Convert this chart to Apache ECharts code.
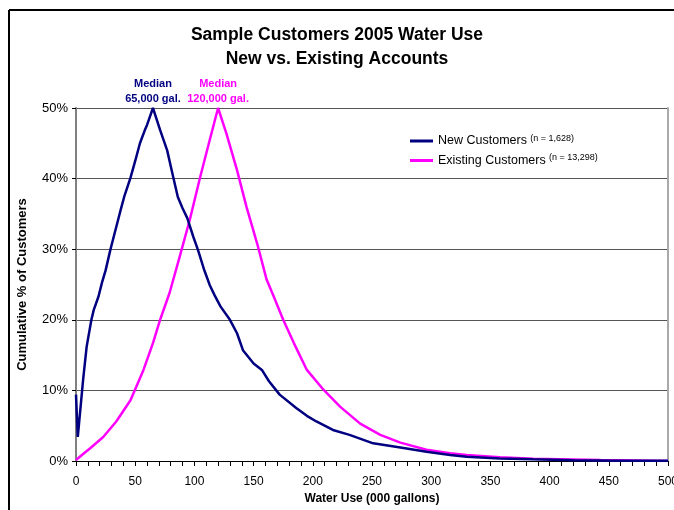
<!DOCTYPE html>
<html>
<head>
<meta charset="utf-8">
<script src="https://cdn.jsdelivr.net/npm/echarts@6/dist/echarts.min.js"></script>
<style>
  html, body { margin: 0; padding: 0; background: #fff; }
  #chart { width: 674px; height: 510px; }
</style>
</head>
<body>
<div id="chart"></div>
<script>
// New customers (water use in 000 gal, cumulative %)
var newX = [0, 1.5, 6, 9, 13, 15, 19, 22, 25, 29, 33, 37, 41, 46, 50, 54, 58, 60, 65,
  71, 77, 82, 86, 90, 94, 99, 103, 108, 113, 117, 122, 130, 136, 141, 150, 157, 163,
  172, 186, 195, 203, 217, 231, 251, 274, 296, 316, 330, 358, 386, 420, 460, 500];
var newPct = [9.4, 3.4, 11.5, 16.2, 20, 21.4, 23.3, 25.3, 27, 29.9, 32.5, 35.1, 37.6, 40.1, 42.5, 45, 46.8, 47.6, 50,
  46.9, 44, 40.3, 37.4, 35.8, 34.4, 31.8, 29.9, 27.2, 24.9, 23.5, 21.9, 20, 18.1, 15.7, 13.8, 12.9, 11.3,
  9.4, 7.5, 6.4, 5.6, 4.4, 3.7, 2.5, 1.9, 1.3, 0.85, 0.6, 0.35, 0.24, 0.12, 0.05, 0.02];

// Existing customers
var oldX = [0, 6, 12, 23, 34, 46, 57, 65, 71, 79, 88, 96, 105, 113, 120,
  127, 136, 144, 153, 161, 167, 175, 184, 195, 209, 223, 240, 257, 274, 296, 316, 330, 358, 386, 443, 500];
var oldPct = [0.15, 1.0, 1.8, 3.4, 5.6, 8.6, 12.9, 16.7, 20, 23.8, 29.2, 34.1, 40.3, 45.5, 50,
  46.4, 41.2, 36, 30.8, 25.7, 23.3, 20, 16.7, 12.9, 10.1, 7.7, 5.3, 3.7, 2.6, 1.6, 1.1, 0.85, 0.52, 0.33, 0.14, 0];

var seriesNames = ['New Customers', 'Existing Customers'];
var seriesCounts = ['(n = 1,628)', '(n = 13,298)'];
var medians = [[65, 50, '65,000 gal.'], [120, 50, '120,000 gal.']];

function pairs(xs, ys) {
  var out = [];
  for (var i = 0; i < xs.length; i++) {
    out.push([xs[i], ys[i]]);
  }
  return out;
}

var font = '"Liberation Sans", Arial, sans-serif';
var navy = '#000080';
var pink = '#ff00ff';

function medianPoint(m, color) {
  return {
    symbol: 'circle',
    symbolSize: 1,
    itemStyle: { color: 'rgba(0,0,0,0)' },
    data: [{ coord: [m[0], m[1]] }],
    label: {
      show: true,
      position: 'top',
      distance: 1,
      formatter: 'Median\n' + m[2],
      color: color,
      fontFamily: font,
      fontWeight: 'bold',
      fontSize: 11,
      lineHeight: 15
    }
  };
}

var chart = echarts.init(document.getElementById('chart'));
var option = {
  animation: false,
  backgroundColor: '#fff',
  title: {
    text: 'Sample Customers 2005 Water Use\nNew vs. Existing Accounts',
    left: 'center',
    top: 18,
    textStyle: {
      fontFamily: font,
      fontWeight: 'bold',
      fontSize: 17.5,
      lineHeight: 24,
      color: '#000'
    }
  },
  graphic: [
    { type: 'line', shape: { x1: 9, y1: 10, x2: 9, y2: 510 }, style: { stroke: '#000', lineWidth: 2 } },
    { type: 'line', shape: { x1: 9, y1: 10, x2: 674, y2: 10 }, style: { stroke: '#000', lineWidth: 2 } }
  ],
  legend: {
    left: 405,
    top: 129,
    orient: 'vertical',
    itemGap: 6,
    itemWidth: 23,
    itemHeight: 3,
    icon: 'rect',
    data: seriesNames,
    formatter: function (name) {
      var i = seriesNames.indexOf(name);
      return '{a|' + name + '} {b|' + seriesCounts[i] + '}';
    },
    textStyle: {
      fontFamily: font,
      color: '#000',
      rich: {
        a: { fontFamily: font, fontSize: 12.5, color: '#000' },
        b: { fontFamily: font, fontSize: 9, color: '#000', verticalAlign: 'top', padding: [0, 0, 5, 0] }
      }
    }
  },
  grid: { left: 76, right: 6, top: 108, bottom: 49, outerBoundsMode: 'none', containLabel: false },
  xAxis: {
    type: 'value',
    min: 0,
    max: 500,
    interval: 10,
    name: 'Water Use (000 gallons)',
    nameLocation: 'middle',
    nameGap: 30,
    nameTextStyle: { fontFamily: font, fontWeight: 'bold', fontSize: 12, color: '#000' },
    axisLine: { show: true, onZero: false, lineStyle: { color: '#000', width: 1 } },
    axisTick: { show: true, length: 5, lineStyle: { color: '#000' } },
    axisLabel: {
      margin: 15,
      fontFamily: font,
      fontSize: 12,
      color: '#000',
      hideOverlap: false,
      formatter: function (v) { return v % 50 === 0 ? v : ''; }
    },
    splitLine: { show: false }
  },
  yAxis: [{
    type: 'value',
    min: 0,
    max: 50,
    interval: 10,
    name: 'Cumulative % of Customers',
    nameLocation: 'middle',
    nameGap: 47,
    nameTextStyle: { fontFamily: font, fontWeight: 'bold', fontSize: 13, color: '#000' },
    axisLine: { show: true, lineStyle: { color: '#808080', width: 2 } },
    axisTick: { show: true, length: 4, lineStyle: { color: '#000' } },
    axisLabel: { margin: 8, fontFamily: font, fontSize: 13, color: '#000', formatter: '{value}%' },
    splitLine: { show: true, lineStyle: { color: '#555', width: 1 } }
  }, {
    type: 'value',
    min: 0,
    max: 50,
    interval: 10,
    position: 'right',
    axisLine: { show: true, lineStyle: { color: '#aaa', width: 2 } },
    axisTick: { show: false },
    axisLabel: { show: false },
    splitLine: { show: false }
  }],
  series: [{
    name: seriesNames[0],
    type: 'line',
    data: pairs(newX, newPct),
    showSymbol: false,
    symbol: 'none',
    lineStyle: { color: navy, width: 2.5 },
    itemStyle: { color: navy },
    markPoint: medianPoint(medians[0], navy),
    z: 3
  }, {
    name: seriesNames[1],
    type: 'line',
    data: pairs(oldX, oldPct),
    showSymbol: false,
    symbol: 'none',
    lineStyle: { color: pink, width: 2.5 },
    itemStyle: { color: pink },
    markPoint: medianPoint(medians[1], pink),
    z: 2
  }]
};
chart.setOption(option);
</script>
</body>
</html>
